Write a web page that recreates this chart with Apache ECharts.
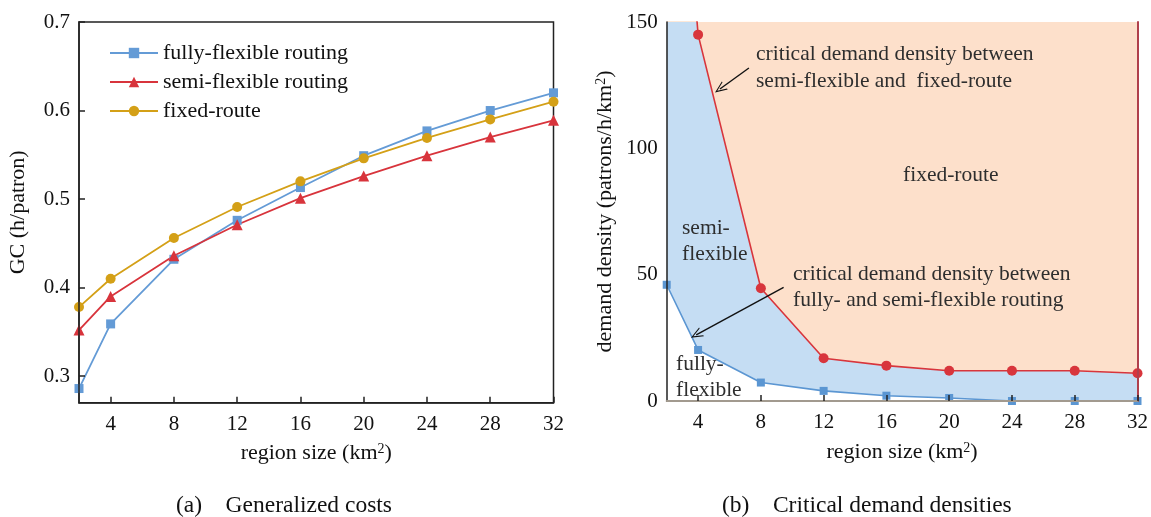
<!DOCTYPE html>
<html><head><meta charset="utf-8">
<script src="https://cdn.jsdelivr.net/npm/echarts@6/dist/echarts.min.js"></script>
<style>html,body{margin:0;padding:0;background:#fff}#c{width:1151px;height:517px}</style>
</head><body><div id="c"></div>
<script>
// ---- data ----
const regionSizes = [2, 4, 8, 12, 16, 20, 24, 28, 32];
const xTickValues = [4, 8, 12, 16, 20, 24, 28, 32];
const gcTickValues = [0.3, 0.4, 0.5, 0.6, 0.7];
const densityTickValues = [0, 50, 100, 150];
const gcFully = [0.286, 0.359, 0.432, 0.476, 0.513, 0.549, 0.577, 0.600, 0.620];
const gcSemi  = [0.352, 0.390, 0.436, 0.471, 0.501, 0.526, 0.549, 0.570, 0.589];
const gcFixed = [0.378, 0.410, 0.456, 0.491, 0.520, 0.546, 0.569, 0.590, 0.610];
const critFullySemi = [46, 20.2, 7.3, 4.0, 2.1, 1.2, 0, 0, 0];
const critSemiFixed = [300, 145, 44.6, 16.9, 14.0, 12.0, 12.0, 12.0, 11.0];
const arrowSemiFixed = [[7.24, 131.8], [5.39, 123.5]];
const arrowFullySemi = [[9.45, 45.0], [3.88, 26.2]];

const pairs = arr => regionSizes.map((x, i) => [x, arr[i]]);
const FONT = 'Liberation Serif';
const BLUE = '#649bd6', RED = '#d8343c', GOLD = '#d4a017';
const chevron = 'path://M0,12 L6,0 L12,12 L10.6,12 L6,2.8 L1.4,12 Z';

const axisText = {fontFamily: FONT, fontSize: 21, color: '#111'};
const nameText = {fontFamily: FONT, fontSize: 22, color: '#111',
  rich: {sup: {fontFamily: FONT, fontSize: 14, color: '#111', verticalAlign: 'top', lineHeight: 14}}};
const annot = '21.5px "Liberation Serif"';
const chart = echarts.init(document.getElementById('c'), null, {renderer: 'canvas'});
chart.setOption({
  animation: false,
  backgroundColor: '#fff',
  textStyle: {fontFamily: FONT},
  grid: [
    {left: 79, top: 22, width: 474.5, height: 380.7, show: true, borderColor: '#222', borderWidth: 1.5, backgroundColor: 'transparent'},
    {left: 666.7, top: 22, width: 471, height: 379}
  ],
  legend: {
    data: ['fully-flexible routing', 'semi-flexible routing', 'fixed-route'],
    orient: 'vertical', left: 104, top: 37, itemWidth: 48, itemHeight: 13, itemGap: 7,
    textStyle: {fontFamily: FONT, fontSize: 22, color: '#111'}
  },
  xAxis: [
    {gridIndex: 0, type: 'value', min: 2, max: 32, z: 5,
     name: 'region size (km{sup|2})', nameLocation: 'middle', nameGap: 40, nameTextStyle: nameText,
     axisLine: {lineStyle: {color: '#222', width: 1.5}},
     axisTick: {inside: true, length: 6, customValues: xTickValues, lineStyle: {color: '#222', width: 1.5}},
     axisLabel: {customValues: xTickValues, margin: 11, ...axisText},
     splitLine: {show: false}},
    {gridIndex: 1, type: 'value', min: 2, max: 32, z: 5,
     name: 'region size (km{sup|2})', nameLocation: 'middle', nameGap: 40, nameTextStyle: nameText,
     axisLine: {lineStyle: {color: '#222', width: 1.5}},
     axisTick: {inside: true, length: 6, customValues: xTickValues, lineStyle: {color: '#222', width: 1.5}},
     axisLabel: {customValues: xTickValues, margin: 11, ...axisText},
     splitLine: {show: false}},
    {gridIndex: 1, type: 'value', min: 2, max: 32, position: 'top', z: 5,
     axisLine: {show: true, lineStyle: {color: '#a29a8f', width: 2}},
     axisTick: {show: false}, axisLabel: {show: false}, splitLine: {show: false}}
  ],
  yAxis: [
    {gridIndex: 0, type: 'value', min: 0.27, max: 0.7, z: 5,
     name: 'GC (h/patron)', nameLocation: 'middle', nameGap: 50, nameTextStyle: nameText,
     axisLine: {show: true, lineStyle: {color: '#222', width: 1.5}},
     axisTick: {show: true, inside: true, length: 6, customValues: gcTickValues, lineStyle: {color: '#222', width: 1.5}},
     axisLabel: {customValues: gcTickValues, margin: 9, formatter: v => v.toFixed(1), ...axisText},
     splitLine: {show: false}},
    {gridIndex: 1, type: 'value', min: 0, max: 150, z: 5,
     name: 'demand density (patrons/h/km{sup|2})', nameLocation: 'middle', nameGap: 50, nameTextStyle: nameText,
     axisLine: {show: true, lineStyle: {color: '#222', width: 1.5}},
     axisTick: {show: false, customValues: densityTickValues},
     axisLabel: {customValues: densityTickValues, margin: 9, ...axisText},
     splitLine: {show: false}},
    {gridIndex: 1, type: 'value', min: 0, max: 150, position: 'right', z: 5,
     axisLine: {show: true, lineStyle: {color: '#b0404c', width: 2}},
     axisTick: {show: false}, axisLabel: {show: false}, splitLine: {show: false}}
  ],
  series: [
    {name: 'fully-flexible routing', type: 'line', xAxisIndex: 0, yAxisIndex: 0, data: pairs(gcFully),
     symbol: 'rect', symbolSize: 9, lineStyle: {color: BLUE, width: 1.8}, itemStyle: {color: BLUE}, z: 3},
    {name: 'semi-flexible routing', type: 'line', xAxisIndex: 0, yAxisIndex: 0, data: pairs(gcSemi),
     symbol: 'triangle', symbolSize: 11, lineStyle: {color: RED, width: 1.8}, itemStyle: {color: RED}, z: 3},
    {name: 'fixed-route', type: 'line', xAxisIndex: 0, yAxisIndex: 0, data: pairs(gcFixed),
     symbol: 'circle', symbolSize: 10, lineStyle: {color: GOLD, width: 1.8}, itemStyle: {color: GOLD}, z: 3},
    {name: 'critical fully/semi', type: 'line', xAxisIndex: 1, yAxisIndex: 1, data: pairs(critFullySemi),
     symbol: 'rect', symbolSize: 8, lineStyle: {color: '#5b96d2', width: 1.6}, itemStyle: {color: '#5b96d2'},
     areaStyle: {color: '#c5ddf3', origin: 'end', opacity: 1}, z: 2},
    {name: 'critical semi/fixed', type: 'line', xAxisIndex: 1, yAxisIndex: 1, data: pairs(critSemiFixed),
     symbol: 'circle', symbolSize: 10, clip: true, lineStyle: {color: '#d8353c', width: 1.6}, itemStyle: {color: '#d8353c'},
     areaStyle: {color: '#fde0cb', origin: 'end', opacity: 1}, z: 3,
     markLine: {silent: true, symbol: ['none', chevron], symbolSize: [10, 12], label: {show: false},
       lineStyle: {color: '#111', width: 1.4, type: 'solid'},
       data: [
         [{coord: arrowSemiFixed[0]}, {coord: arrowSemiFixed[1]}],
         [{coord: arrowFullySemi[0]}, {coord: arrowFullySemi[1]}]
       ]}}
  ],
  graphic: [
    {type: 'text', left: 756, top: 41, style: {text: 'critical demand density between\nsemi-flexible and  fixed-route', font: annot, fill: '#2e2e2e', lineHeight: 27}, z: 20},
    {type: 'text', left: 903, top: 164, style: {text: 'fixed-route', font: annot, fill: '#2e2e2e'}, z: 20},
    {type: 'text', left: 682, top: 215, style: {text: 'semi-\nflexible', font: annot, fill: '#2e2e2e', lineHeight: 26}, z: 20},
    {type: 'text', left: 793, top: 261, style: {text: 'critical demand density between\nfully- and semi-flexible routing', font: annot, fill: '#2e2e2e', lineHeight: 26}, z: 20},
    {type: 'text', left: 676, top: 351, style: {text: 'fully-\nflexible', font: annot, fill: '#2e2e2e', lineHeight: 26}, z: 20},
    {type: 'text', left: 176, top: 494, style: {text: '(a)    Generalized costs', font: '23.5px "Liberation Serif"', fill: '#111'}},
    {type: 'text', left: 722, top: 494, style: {text: '(b)    Critical demand densities', font: '23.5px "Liberation Serif"', fill: '#111'}}
  ]
});
</script></body></html>
